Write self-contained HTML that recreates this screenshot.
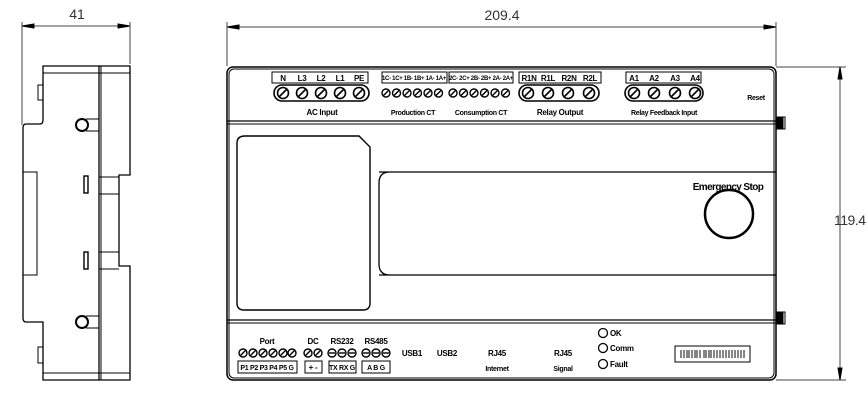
<!DOCTYPE html>
<html><head><meta charset="utf-8"><style>
html,body{margin:0;padding:0;background:#fff;width:868px;height:409px;overflow:hidden}
svg{display:block}
text{font-family:"Liberation Sans",sans-serif;fill:#000}
.b{font-weight:bold;font-size:8px;letter-spacing:-0.3px}
.d{font-size:14px;fill:#333}
</style></head><body>
<svg width="868" height="409" viewBox="0 0 868 409" xmlns="http://www.w3.org/2000/svg">
<defs>
<g id="s"><circle r="5.5" fill="#fff" stroke="#000" stroke-width="1.6"/><line x1="-3.5" y1="3.5" x2="3.5" y2="-3.5" stroke="#000" stroke-width="1.6"/></g>
<g id="ss"><circle r="4" fill="#fff" stroke="#000" stroke-width="1.4"/><line x1="-2.5" y1="2.5" x2="2.5" y2="-2.5" stroke="#000" stroke-width="1.4"/></g>
<g id="sm"><circle r="4" fill="#fff" stroke="#000" stroke-width="1.4"/><line x1="-3" y1="0" x2="3" y2="0" stroke="#000" stroke-width="1.4"/></g>
</defs>
<g fill="none" stroke="#000" stroke-width="1">
<line x1="22" y1="26" x2="130" y2="26" stroke="#444"/>
<polygon points="22,26 34,24 34,28" fill="#000"/><polygon points="130,26 118,24 118,28" fill="#000"/>
<line x1="22" y1="22" x2="22" y2="125" stroke="#444"/><line x1="130" y1="22" x2="130" y2="64" stroke="#444"/>
<path d="M43,66 H130 V175 H119 V266 H130 V380 H43 V322 L26,322 Q23,322 23,318 V128 Q23,124 26,124 H40 Q43,124 43,120 Z" stroke-width="1.3"/>
<line x1="43" y1="73" x2="130" y2="73"/><line x1="43" y1="373" x2="130" y2="373"/>
<line x1="99" y1="66" x2="99" y2="380" stroke-width="1.3"/><line x1="101" y1="66" x2="101" y2="380"/>
<line x1="99" y1="177" x2="119" y2="177"/><line x1="99" y1="194" x2="119" y2="194"/>
<line x1="99" y1="252" x2="119" y2="252"/><line x1="99" y1="269" x2="119" y2="269"/>
<rect x="23" y="172" width="14" height="103"/>
<rect x="38" y="85" width="5" height="15"/><rect x="38" y="347" width="5" height="16"/>
<circle cx="82" cy="125" r="6" stroke-width="2"/><circle cx="82" cy="322" r="6" stroke-width="2"/>
<line x1="86" y1="119" x2="99" y2="119"/><line x1="86" y1="131" x2="99" y2="131"/>
<line x1="86" y1="316" x2="99" y2="316"/><line x1="86" y1="328" x2="99" y2="328"/>
<rect x="84" y="176" width="4" height="17" stroke-width="1.4"/><rect x="84" y="252" width="4" height="17" stroke-width="1.4"/>
<line x1="227" y1="27" x2="776" y2="27" stroke="#444"/>
<polygon points="227,27 239,25 239,29" fill="#000"/><polygon points="776,27 764,25 764,29" fill="#000"/>
<line x1="227" y1="22" x2="227" y2="66" stroke="#444"/><line x1="776" y1="22" x2="776" y2="66" stroke="#444"/>
<line x1="776" y1="67" x2="846" y2="67" stroke="#444"/><line x1="776" y1="380" x2="846" y2="380" stroke="#444"/>
<line x1="840" y1="67" x2="840" y2="380" stroke="#444"/>
<polygon points="840,67 838,79 842,79" fill="#000"/><polygon points="840,380 838,368 842,368" fill="#000"/>
<rect x="227" y="67" width="549" height="313" rx="6" stroke-width="1.5"/>
<rect x="229" y="69" width="545" height="309" rx="5"/>
<line x1="227" y1="121" x2="776" y2="121" stroke-width="1.3"/><line x1="227" y1="124" x2="776" y2="124"/>
<line x1="227" y1="320" x2="776" y2="320" stroke-width="1.3"/><line x1="227" y1="323" x2="776" y2="323"/>
<path d="M379,172 H776 M379,275 H776 M390,172 Q379,172 379,183 V264 Q379,275 390,275" stroke-width="1.3"/>
<path d="M245,136 H359 L370,147 V303 Q370,310 363,310 H244 Q237,310 237,303 V143 Q237,136 245,136 Z" stroke-width="1.4"/>
<rect x="776" y="117" width="7" height="12" fill="#000"/><rect x="783" y="117" width="2" height="12"/>
<rect x="776" y="312" width="7" height="12" fill="#000"/><rect x="783" y="312" width="2" height="12"/>
<circle cx="729" cy="214" r="24" stroke-width="2.5"/>
<rect x="272" y="72" width="96" height="11"/>
<rect x="382" y="72" width="65" height="11"/><rect x="449" y="72" width="64" height="11"/>
<rect x="519" y="72" width="82" height="11"/><rect x="626" y="72" width="75" height="11"/>
<rect x="274" y="85" width="95" height="16" rx="8" stroke-width="1.6"/>
<rect x="519" y="85" width="80" height="16" rx="8" stroke-width="1.6"/>
<rect x="625" y="85" width="78" height="16" rx="8" stroke-width="1.6"/>
<rect x="238" y="361" width="59" height="12"/><rect x="305" y="361" width="17" height="12"/>
<rect x="329" y="361" width="27" height="12"/><rect x="362" y="361" width="28" height="12"/>
<circle cx="603" cy="333" r="4.5" stroke-width="1.3"/><circle cx="603" cy="348" r="4.5" stroke-width="1.3"/><circle cx="603" cy="364" r="4.5" stroke-width="1.3"/>
<rect x="675" y="346" width="75" height="16"/>
</g>
<g stroke="#333" stroke-width="1.2">
<path d="M681,350V358M684,350V358M687,350V358M689,350V358M692,350V358M695,350V358M697,350V358M700,350V358M704,350V358M706,350V358M709,350V358M711,350V358M714,350V358M717,350V358M720,350V358M723,350V358M726,350V358M729,350V358M732,350V358M735,350V358M738,350V358M741,350V358M744,350V358"/>
</g>
<use href="#s" x="283" y="93"/><use href="#s" x="302" y="93"/><use href="#s" x="321" y="93"/><use href="#s" x="340" y="93"/><use href="#s" x="359" y="93"/>
<use href="#ss" x="386" y="93"/><use href="#ss" x="396.5" y="93"/><use href="#ss" x="407" y="93"/><use href="#ss" x="417.5" y="93"/><use href="#ss" x="428" y="93"/><use href="#ss" x="438.5" y="93"/>
<use href="#ss" x="453" y="93"/><use href="#ss" x="463.5" y="93"/><use href="#ss" x="474" y="93"/><use href="#ss" x="484.5" y="93"/><use href="#ss" x="495" y="93"/><use href="#ss" x="505.5" y="93"/>
<use href="#s" x="528" y="93"/><use href="#s" x="548" y="93"/><use href="#s" x="568" y="93"/><use href="#s" x="589" y="93"/>
<use href="#s" x="634" y="93"/><use href="#s" x="654" y="93"/><use href="#s" x="675" y="93"/><use href="#s" x="695" y="93"/>
<use href="#ss" x="243" y="353"/><use href="#ss" x="253" y="353"/><use href="#ss" x="263" y="353"/><use href="#ss" x="273" y="353"/><use href="#ss" x="283" y="353"/><use href="#ss" x="292" y="353"/>
<use href="#ss" x="308" y="353"/><use href="#ss" x="318" y="353"/>
<use href="#sm" x="332" y="353"/><use href="#sm" x="342" y="353"/><use href="#sm" x="352" y="353"/>
<use href="#sm" x="366" y="353"/><use href="#sm" x="376" y="353"/><use href="#sm" x="386" y="353"/>
<text x="77" y="19" class="d" text-anchor="middle">41</text>
<text x="502" y="20" class="d" text-anchor="middle">209.4</text>
<text x="866" y="225" class="d" font-size="13" text-anchor="end" textLength="32">119.4</text>
<g class="b" text-anchor="middle">
<text x="283" y="81">N</text><text x="302" y="81">L3</text><text x="321" y="81">L2</text><text x="340" y="81">L1</text><text x="359" y="81">PE</text>
<text x="414" y="80" font-size="6">1C- 1C+ 1B- 1B+ 1A- 1A+</text>
<text x="481" y="80" font-size="6">2C- 2C+ 2B- 2B+ 2A- 2A+</text>
<text x="529" y="81">R1N</text><text x="548" y="81">R1L</text><text x="569" y="81">R2N</text><text x="590" y="81">R2L</text>
<text x="634" y="81">A1</text><text x="654" y="81">A2</text><text x="675" y="81">A3</text><text x="695" y="81">A4</text>
<text x="322" y="115">AC Input</text><text x="413" y="115" font-size="7">Production CT</text>
<text x="481" y="115" font-size="7">Consumption CT</text><text x="560" y="115">Relay Output</text>
<text x="664" y="115" font-size="7">Relay Feedback Input</text>
<text x="756" y="100" font-size="7">Reset</text>
<text x="728" y="190" font-size="10" letter-spacing="-0.6">Emergency Stop</text>
<text x="267" y="344">Port</text><text x="313" y="344">DC</text><text x="342" y="344">RS232</text><text x="376" y="344">RS485</text>
<text x="267" y="370" font-size="7">P1 P2 P3 P4 P5 G</text><text x="313" y="370">+ -</text>
<text x="342" y="370" font-size="7">TX RX G</text><text x="376" y="370" font-size="7">A  B  G</text>
<text x="412" y="356">USB1</text><text x="447" y="356">USB2</text>
<text x="497" y="356">RJ45</text><text x="497" y="371" font-size="7">Internet</text>
<text x="563" y="356">RJ45</text><text x="563" y="371" font-size="7">Signal</text>
</g>
<g class="b" font-size="6"><text x="610" y="336">OK</text><text x="610" y="351">Comm</text><text x="610" y="367">Fault</text></g>
</svg>
</body></html>
